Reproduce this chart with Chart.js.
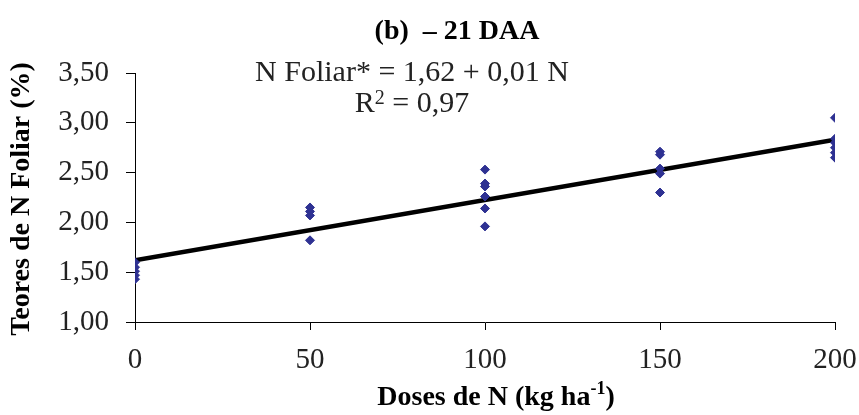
<!DOCTYPE html>
<html>
<head>
<meta charset="utf-8">
<script src="https://cdn.jsdelivr.net/npm/chart.js@4.4.1/dist/chart.umd.min.js"></script>
<style>
html,body{margin:0;padding:0;background:#fff;}
#wrap{width:859px;height:415px;position:relative;}
</style>
</head>
<body>
<div id="wrap"><canvas id="c" width="859" height="415"></canvas></div>
<script>
// Data
const doses = [0, 50, 100, 150, 200];
const nFoliar0   = [1.60, 1.55, 1.51, 1.47, 1.43];
const nFoliar50  = [2.15, 2.11, 2.07, 1.82];
const nFoliar100 = [2.53, 2.39, 2.36, 2.26, 2.14, 1.96];
const nFoliar150 = [2.71, 2.68, 2.54, 2.49, 2.30];
const nFoliar200 = [3.05, 2.84, 2.80, 2.75, 2.70, 2.65];
const fitX = [0, 200];
const fitY = [1.62, 2.83];
const yTicks = [1.00, 1.50, 2.00, 2.50, 3.00, 3.50];
const xTicks = [0, 50, 100, 150, 200];

const groups = [nFoliar0, nFoliar50, nFoliar100, nFoliar150, nFoliar200];
const scatterPts = [];
groups.forEach((g, i) => g.forEach(v => scatterPts.push({x: doses[i], y: v})));
const fitPts = fitX.map((x, i) => ({x: x, y: fitY[i]}));

const SERIF = '"Liberation Serif", "Times New Roman", serif';

function drawRich(ctx, parts, cx, cy) {
  let total = 0;
  parts.forEach(p => {
    ctx.font = (p.bold ? 'bold ' : '') + p.size + 'px ' + SERIF;
    p.w = ctx.measureText(p.t).width;
    total += p.w;
  });
  let x = cx - total / 2;
  parts.forEach(p => {
    ctx.font = (p.bold ? 'bold ' : '') + p.size + 'px ' + SERIF;
    ctx.fillText(p.t, x, cy - (p.raise || 0));
    x += p.w;
  });
}

const textPlugin = {
  id: 'texts',
  afterDraw(chart) {
    const ctx = chart.ctx;
    ctx.save();
    ctx.fillStyle = '#000';
    ctx.textBaseline = 'middle';
    ctx.textAlign = 'left';
    drawRich(ctx, [{t: '(b)  \u2013 21 DAA', bold: true, size: 28}], 457, 32);
    ctx.fillStyle = '#222';
    drawRich(ctx, [{t: 'N Foliar* = 1,62 + 0,01 N', size: 30}], 412, 73);
    drawRich(ctx, [{t: 'R', size: 30}, {t: '2', size: 20, raise: 5}, {t: ' = 0,97', size: 30}], 412, 104);
    ctx.fillStyle = '#000';
    drawRich(ctx, [{t: 'Doses de N (kg ha', bold: true, size: 28}, {t: '-1', bold: true, size: 18, raise: 9}, {t: ')', bold: true, size: 28}], 496, 398);
    ctx.translate(22, 199);
    ctx.rotate(-Math.PI / 2);
    drawRich(ctx, [{t: 'Teores de N Foliar (%)', bold: true, size: 28}], 0, 0);
    ctx.restore();
  }
};

new Chart(document.getElementById('c'), {
  type: 'scatter',
  data: {
    datasets: [
      {
        type: 'line',
        data: fitPts,
        borderColor: '#000',
        borderWidth: 4.5,
        pointRadius: 0,
        fill: false,
        tension: 0,
        order: 1
      },
      {
        data: scatterPts,
        pointStyle: 'rectRot',
        pointRadius: 4.5,
        backgroundColor: '#2e3192',
        borderColor: '#2e3192',
        borderWidth: 1,
        order: 0
      }
    ]
  },
  options: {
    responsive: false,
    animation: false,
    devicePixelRatio: 1,
    layout: {padding: {top: 73, right: 24, left: 0, bottom: 0}},
    plugins: {legend: {display: false}, tooltip: {enabled: false}, title: {display: false}},
    scales: {
      x: {
        type: 'linear',
        min: 0, max: 200,
        afterBuildTicks(s) { s.ticks = xTicks.map(v => ({value: v})); },
        afterFit(s) { s.height = 93; s.paddingLeft = 0; s.paddingRight = 0; },
        grid: {drawOnChartArea: false, drawTicks: true, tickLength: 8, color: '#000', lineWidth: 1},
        border: {display: true, color: '#000', width: 1},
        ticks: {
          color: '#222',
          font: {family: SERIF, size: 29},
          padding: 13,
          maxRotation: 0,
          callback: v => String(v)
        }
      },
      y: {
        type: 'linear',
        min: 1, max: 3.5,
        afterBuildTicks(s) { s.ticks = yTicks.map(v => ({value: v})); },
        afterFit(s) { s.width = 135; s.paddingTop = 0; s.paddingBottom = 0; },
        grid: {drawOnChartArea: false, drawTicks: true, tickLength: 9, color: '#000', lineWidth: 1},
        border: {display: true, color: '#000', width: 1},
        ticks: {
          color: '#222',
          font: {family: SERIF, size: 29},
          padding: 17,
          callback: v => Number(v).toFixed(2).replace('.', ',')
        }
      }
    }
  },
  plugins: [textPlugin]
});
</script>
</body>
</html>
